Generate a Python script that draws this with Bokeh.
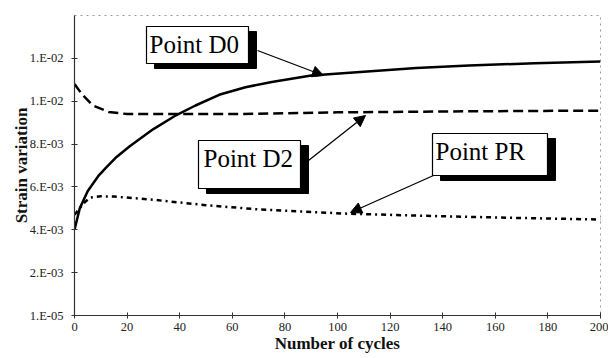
from bokeh.plotting import figure
from bokeh.models import Range1d, FixedTicker, CustomJSTickFormatter, Arrow, NormalHead
from bokeh.core.properties import value
from bokeh.embed import file_html
from bokeh.resources import INLINE

# ---- data ----
d0_cycles = [0, 2, 5, 9, 12, 16, 21, 30, 38, 46, 55, 65, 75, 90, 110, 130, 150, 175, 200]
d0_strain = [0.0040, 0.0050, 0.0058, 0.0065, 0.0069, 0.0074, 0.0079, 0.0087, 0.0093, 0.0098,
             0.0103, 0.01065, 0.0109, 0.0112, 0.01138, 0.01155, 0.01167, 0.01177, 0.01185]

d2_cycles = [0, 3, 7, 13, 20, 40, 60, 100, 150, 200]
d2_strain = [0.0108, 0.0103, 0.0098, 0.0095, 0.0094, 0.0094, 0.0094, 0.00948, 0.00953, 0.00956]

pr_cycles = [0, 2, 4, 6, 10, 15, 30, 50, 70, 104, 140, 170, 200]
pr_strain = [0.0047, 0.0050, 0.0053, 0.0055, 0.00556, 0.00555, 0.0054, 0.00515, 0.00495,
             0.00475, 0.00463, 0.00455, 0.00448]

x_ticks = [0, 20, 40, 60, 80, 100, 120, 140, 160, 180, 200]
y_ticks = [0, 0.002, 0.004, 0.006, 0.008, 0.010, 0.012]
y_tick_labels = ["1.E-05", "2.E-03", "4.E-03", "6.E-03", "8.E-03", "1.E-02", "1.E-02"]

labels = ["Point D0", "Point D2", "Point PR"]
x_title = "Number of cycles"
y_title = "Strain variation"

# ---- layout constants (page pixel coords of the frame) ----
W, H = 608, 358
FL, FR, FT, FB = 74, 600, 15, 315
X0, X1, Y0, Y1 = 0, 200, 0, 0.014


def px(xp):
    return X0 + (xp - FL) / (FR - FL) * (X1 - X0)


def py(yp):
    return Y0 + (FB - yp) / (FB - FT) * (Y1 - Y0)


FONT = "Liberation Serif"

p = figure(width=W, height=H, output_backend="svg", toolbar_location=None,
           x_range=Range1d(X0, X1), y_range=Range1d(Y0, Y1),
           min_border_left=FL, min_border_right=W - FR, min_border_top=FT,
           min_border_bottom=H - FB)
p.background_fill_color = "white"
p.border_fill_color = "white"
p.outline_line_color = "#999999"
p.outline_line_dash = "dotted"
p.outline_line_width = 1
p.xgrid.visible = False
p.ygrid.visible = False

# axes
p.xaxis.ticker = FixedTicker(ticks=x_ticks)
p.yaxis.ticker = FixedTicker(ticks=y_ticks)
p.yaxis.formatter = CustomJSTickFormatter(args=dict(vals=y_ticks, labs=y_tick_labels), code="""
let best = 0;
for (let i = 0; i < vals.length; i++) {
  if (Math.abs(vals[i] - tick) < Math.abs(vals[best] - tick)) best = i;
}
return labs[best];
""")
for ax in (p.xaxis[0], p.yaxis[0]):
    ax.minor_tick_line_color = None
    ax.major_tick_in = 3
    ax.major_tick_out = 3
    ax.axis_line_color = "#333333"
    ax.axis_line_width = 1.2
    ax.major_tick_line_color = "#333333"
    ax.major_label_text_font = FONT
    ax.major_label_text_font_size = "12.5px"
    ax.major_label_text_color = "#222222"
    ax.axis_label_text_font = FONT
    ax.axis_label_text_font_style = "bold"
    ax.axis_label_text_font_size = "17px"
    ax.axis_label_text_color = "#111111"
p.xaxis.axis_label = x_title
p.yaxis.axis_label = y_title
p.xaxis.major_label_standoff = 4
p.xaxis.axis_label_standoff = 0
p.yaxis.major_label_standoff = 8
p.yaxis.axis_label_standoff = -4

# series
p.line(d0_cycles, d0_strain, line_color="black", line_width=2.5)
p.line(d2_cycles, d2_strain, line_color="black", line_width=2.5, line_dash="10 5")
p.line(pr_cycles, pr_strain, line_color="black", line_width=2.5, line_dash="5 4 2 4")

# annotation boxes: (left, top, right, bottom) in page px, shadow offset
boxes = [(146, 26, 248, 63), (198, 140, 300, 188), (432, 133, 547, 175)]
text_pos = [(149, 44), (203, 158), (435, 151)]
sdx, sdy = 8, 5
for (l, t, r, b), (tx, ty), lab in zip(boxes, text_pos, labels):
    p.quad(left=[px(l + sdx)], right=[px(r + sdx)], top=[py(t + sdy)], bottom=[py(b + sdy)],
           fill_color="black", line_color="black")
    p.quad(left=[px(l)], right=[px(r)], top=[py(t)], bottom=[py(b)],
           fill_color="white", line_color="black", line_width=1.2)
    p.text(x=[px(tx)], y=[py(ty)], text=[lab], text_font=value(FONT), text_font_size="25px",
           text_baseline="middle", text_align="left", text_color="black")

arrows = [((257, 50), (323, 75)), ((308, 160), (365, 115)), ((433, 175), (350, 212))]
for (xs, ys), (xe, ye) in arrows:
    p.add_layout(Arrow(end=NormalHead(size=11, fill_color="black", line_color="black"),
                       x_start=px(xs), y_start=py(ys), x_end=px(xe), y_end=py(ye),
                       line_color="black", line_width=1.3))

open("out.html", "w").write(file_html(p, INLINE))
